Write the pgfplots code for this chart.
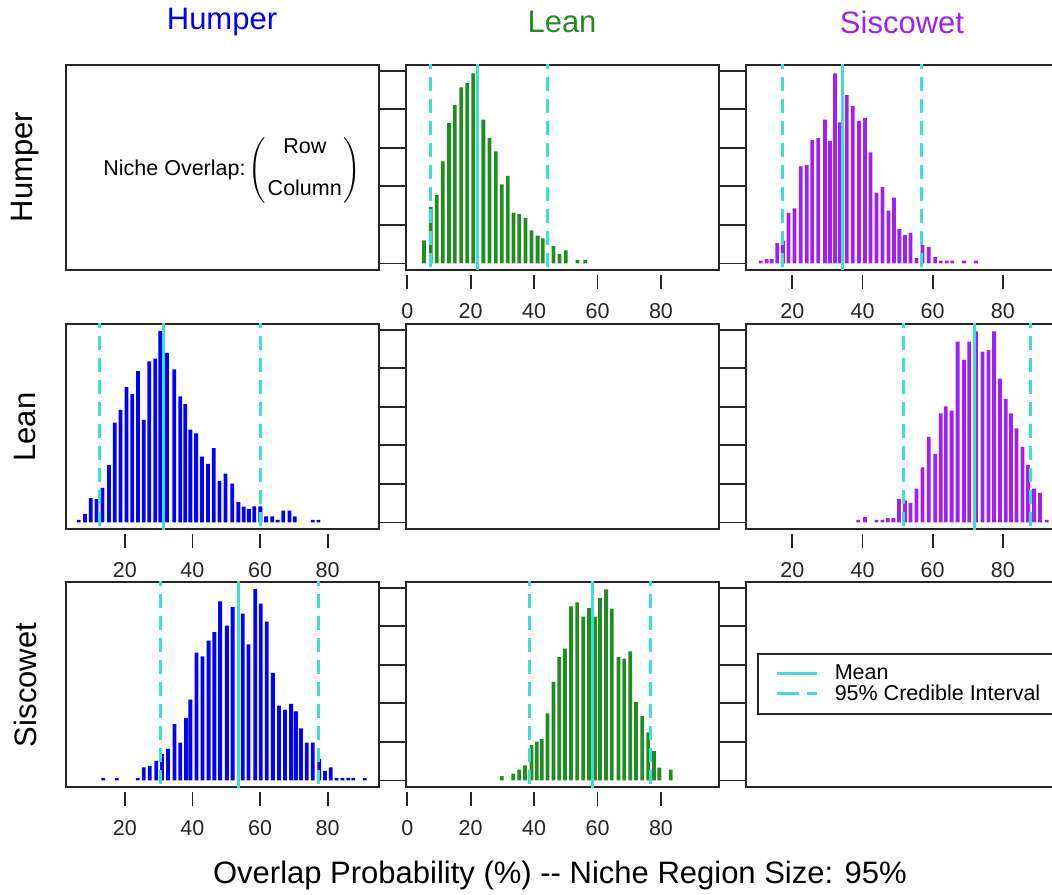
\documentclass[border=0pt]{standalone}
\usepackage{pgfplots}
\pgfplotsset{compat=1.18}
\usepackage{fontspec}
\setmainfont{Liberation Sans}
\usepackage{amsmath}

\definecolor{hump}{HTML}{0000FF}
\definecolor{lean}{HTML}{228B22}
\definecolor{sisc}{HTML}{A020F0}
\definecolor{turq}{HTML}{40E0D0}

\newcommand\tickfont{\fontsize{10.75}{12}\selectfont}
\newcommand\bigfont{\fontsize{15.5}{18}\selectfont}

% mean (solid) and 95% interval (dashed) lines
\newcommand\meanline[1]{\addplot[turq, line width=1.5pt] coordinates {(#1,7) (#1,-1)};}
\newcommand\ciline[1]{\addplot[turq, line width=1.5pt, dash pattern=on 7pt off 4pt] coordinates {(#1,5.4) (#1,-1)};}

\pgfplotsset{
  panel/.style={
    scale only axis, width=156.5pt, height=102.5pt, anchor=south west,
    ymin=-0.17, ymax=5.15, ytick={0,1,2,3,4,5}, yticklabels={},
    xtick={0,20,40,60,80}, xtick pos=bottom,
    tick align=outside, major tick length=7pt,
    axis line style={line width=0.8pt, black!85},
    every tick/.style={line width=0.9pt, black!85},
    every x tick/.append style={yshift=-2.5pt},
    tick label style={font=\tickfont, text=black!85},
    /pgf/number format/assume math mode=true,
    xticklabel shift=6pt,
  },
  col1/.style={xmin=2.6, xmax=95.2, ytick pos=right},
  col2/.style={xmin=-0.4, xmax=98.3, ytick pos=both},
  col3/.style={xmin=6.8, xmax=96.0, ytick pos=left},
  hbar/.style={ybar, bar width=1.9pt, fill=#1, draw=none},
}

\begin{document}
\begin{tikzpicture}
\useasboundingbox (0,0) rectangle (526pt,447pt);

% column titles
\node[font=\bigfont, text=hump] at (111pt,436pt) {Humper};
\node[font=\bigfont, text=lean] at (281pt,436pt) {Lean};
\node[font=\bigfont, text=sisc] at (451pt,436pt) {Siscowet};
% row titles
\node[font=\bigfont, rotate=90] at (12.5pt,363.5pt) {Humper};
\node[font=\bigfont, rotate=90] at (12.5pt,233.5pt) {Lean};
\node[font=\bigfont, rotate=90] at (12.5pt,104.5pt) {Siscowet};
% overall x label
\node[font=\bigfont] at (280pt,9.5pt) {Overlap Probability (\%) {-}{-} Niche Region Size: 95\%};

% ---- row 1 ----
\begin{axis}[panel, col1, at={(33pt,312pt)}, xtick=\empty]
\end{axis}
\node[font=\tickfont, anchor=east, inner sep=0pt] at (123pt,362pt) {Niche Overlap:};
\node[font=\tickfont, anchor=west, inner sep=0pt] at (124pt,362pt)
  {$\left(\begin{array}{@{\hspace{1pt}}c@{\hspace{1pt}}}\text{Row}\\[9pt]\text{Column}\end{array}\right)$};

\begin{axis}[panel, col2, at={(203pt,312pt)}]
\addplot[hbar=lean] coordinates {
 (5.3,0.60) (7.4,1.47) (9.3,1.77) (11.2,2.65) (13.2,3.64) (15.0,4.11)
 (17.0,4.57) (18.9,4.68) (20.8,4.93) (24.0,3.73) (25.9,3.26) (27.9,2.91)
 (29.8,2.05) (31.7,2.27) (33.5,1.32) (35.3,1.28) (37.3,1.18) (39.2,0.86)
 (41.1,0.72) (42.7,0.65) (46.1,0.45) (48.0,0.24) (50.0,0.34) (53.7,0.09)
 (56.1,0.09)};
\meanline{22.1}
\ciline{7.4}
\ciline{44.3}
\end{axis}

\begin{axis}[panel, col3, at={(373pt,312pt)}]
\addplot[hbar=sisc] coordinates {
 (11.0,0.07) (12.7,0.11) (14.1,0.11) (15.7,0.53) (17.3,0.59) (18.9,1.31)
 (20.6,1.43) (22.4,2.52) (24.1,2.56) (25.7,3.20) (27.4,3.25) (29.3,3.73)
 (30.7,3.18) (32.2,4.93) (33.6,3.66) (35.5,4.37) (37.2,4.09) (39.0,3.70)
 (40.7,3.77) (42.3,2.88) (44.0,1.84) (45.7,1.99) (47.4,1.37) (49.0,1.71)
 (50.5,0.89) (52.1,0.74) (53.7,0.80) (55.4,0.14) (57.1,0.48) (58.9,0.43)
 (60.7,0.17) (62.3,0.07) (64.0,0.07) (65.6,0.07) (68.9,0.07) (72.3,0.07)};
\meanline{34.35}
\ciline{17.3}
\ciline{56.9}
\end{axis}

% ---- row 2 ----
\begin{axis}[panel, col1, at={(33pt,182.5pt)}]
\addplot[hbar=hump] coordinates {
 (6.4,0.07) (8.2,0.22) (9.9,0.63) (11.6,0.61) (13.4,0.90) (15.3,1.49)
 (17.0,2.59) (18.7,2.92) (20.5,3.51) (22.2,3.33) (23.9,3.93) (25.6,2.66)
 (27.2,4.18) (29.0,4.25) (30.5,4.97) (32.5,4.40) (34.6,3.97) (36.4,3.27)
 (37.9,3.07) (39.4,2.41) (41.1,2.31) (42.8,1.71) (44.6,1.52) (46.3,1.93)
 (48.0,1.07) (49.8,1.27) (51.8,1.01) (53.6,0.53) (55.2,0.41) (56.7,0.35)
 (58.3,0.42) (60.1,0.42) (61.8,0.16) (63.6,0.16) (65.2,0.07) (66.9,0.31)
 (68.7,0.31) (70.3,0.16) (75.6,0.07) (77.3,0.07)};
\meanline{31.5}
\ciline{12.4}
\ciline{60.0}
\end{axis}

\begin{axis}[panel, col2, at={(203pt,182.5pt)}, xtick=\empty]
\end{axis}

\begin{axis}[panel, col3, at={(373pt,182.5pt)}]
\addplot[hbar=sisc] coordinates {
 (38.8,0.07) (40.7,0.14) (44.0,0.07) (45.7,0.07) (47.2,0.11) (48.8,0.11)
 (50.4,0.61) (52.1,0.57) (53.7,0.51) (55.4,0.88) (57.1,1.43) (58.9,2.22)
 (60.7,1.78) (62.3,2.83) (63.7,3.01) (65.4,2.90) (67.1,4.69) (68.9,4.22)
 (70.4,4.69) (72.3,4.96) (74.2,4.43) (75.9,4.48) (77.5,4.96) (79.2,3.73)
 (80.8,3.21) (82.3,2.83) (83.9,2.44) (85.6,1.96) (87.2,1.49) (88.9,0.88)
 (90.6,0.77) (92.5,0.07)};
\meanline{71.8}
\ciline{51.6}
\ciline{87.9}
\end{axis}

% ---- row 3 ----
\begin{axis}[panel, col1, at={(33pt,53.5pt)}]
\addplot[hbar=hump] coordinates {
 (13.6,0.07) (17.6,0.07) (23.8,0.07) (25.6,0.34) (27.4,0.38) (29.3,0.51)
 (31.0,0.69) (32.8,0.82) (34.7,1.46) (36.4,0.98) (38.1,1.62) (39.4,2.10)
 (41.2,3.32) (43.0,3.22) (44.8,3.63) (46.5,3.85) (48.2,4.65) (50.2,4.02)
 (51.9,4.50) (54.9,4.33) (56.6,3.53) (58.6,4.97) (60.2,4.59) (62.0,4.12)
 (63.8,2.79) (65.6,1.94) (67.4,1.84) (69.2,1.99) (70.6,1.79) (72.1,1.35)
 (73.8,0.98) (75.6,0.98) (77.5,0.56) (79.2,0.25) (80.9,0.34) (82.6,0.07)
 (84.4,0.07) (86.1,0.07) (87.6,0.07) (91.0,0.07)};
\meanline{53.6}
\ciline{30.5}
\ciline{77.3}
\end{axis}

\begin{axis}[panel, col2, at={(203pt,53.5pt)}]
\addplot[hbar=lean] coordinates {
 (29.8,0.11) (33.4,0.18) (35.3,0.28) (37.1,0.39) (39.2,0.92) (40.8,1.01)
 (42.4,1.08) (44.2,1.74) (46.1,2.56) (47.9,3.20) (49.7,3.42) (51.6,4.52)
 (53.6,4.62) (55.5,4.25) (57.3,4.47) (59.2,4.25) (60.8,4.74) (62.7,4.96)
 (64.5,4.46) (66.6,3.20) (68.4,3.16) (70.3,3.35) (72.1,2.04) (74.1,1.67)
 (76.0,1.25) (77.8,0.76) (79.5,0.33) (83.1,0.28)};
\meanline{58.4}
\ciline{38.5}
\ciline{76.6}
\end{axis}

\begin{axis}[panel, col3, at={(373pt,53.5pt)}, xtick=\empty,
  legend style={at={(0.035,0.654)}, anchor=north west, draw=black!85,
    line width=0.8pt, font=\tickfont, inner xsep=5pt, inner ysep=3.5pt,
    row sep=-3pt},
  legend cell align=left,
  legend image code/.code={\path (-4pt,0pt) (26pt,0pt); \draw[#1] (0pt,0pt) -- (20pt,0pt);}]
\addlegendimage{turq, line width=1.5pt}
\addlegendentry{Mean}
\addlegendimage{turq, line width=1.5pt, dash pattern=on 11pt off 4pt}
\addlegendentry{95\% Credible Interval}
\end{axis}
\end{tikzpicture}
\end{document}
